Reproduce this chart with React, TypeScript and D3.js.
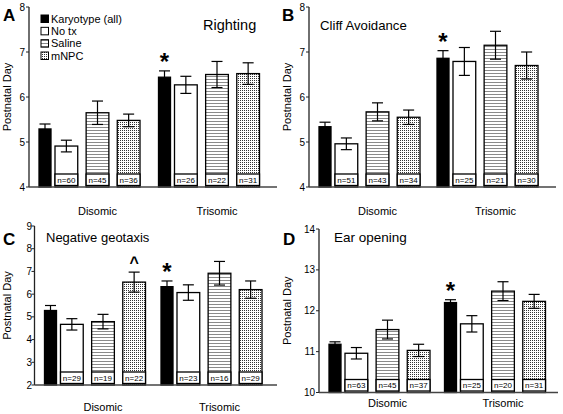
import React from "react";
import * as d3 from "d3";

// ---------- data ----------
const groups = ["Disomic", "Trisomic"];
const seriesNames = ["Karyotype (all)", "No tx", "Saline", "mNPC"];
const treatments = ["No tx", "Saline", "mNPC"];

// means ordered: Disomic [Karyotype, No tx, Saline, mNPC], Trisomic [...]
const rightingMean = [5.29, 4.91, 5.65, 5.48, 6.44, 6.27, 6.5, 6.52];
const rightingErr = [0.11, 0.13, 0.26, 0.14, 0.14, 0.19, 0.29, 0.24];
const rightingN = [60, 45, 36, 26, 22, 31];

const cliffMean = [5.34, 4.96, 5.67, 5.55, 6.86, 6.79, 7.15, 6.7];
const cliffErr = [0.1, 0.13, 0.2, 0.16, 0.17, 0.31, 0.31, 0.3];
const cliffN = [51, 43, 34, 25, 21, 30];

const geotaxisMean = [5.28, 4.67, 4.79, 6.53, 6.33, 6.07, 6.92, 6.2];
const geotaxisErr = [0.22, 0.25, 0.32, 0.44, 0.25, 0.34, 0.52, 0.38];
const geotaxisN = [29, 19, 22, 23, 16, 29];

const earMean = [11.18, 10.96, 11.54, 11.03, 12.2, 11.68, 12.48, 12.23];
const earErr = [0.06, 0.14, 0.23, 0.15, 0.07, 0.2, 0.23, 0.17];
const earN = [63, 45, 37, 25, 20, 31];

const ticksAB = [4, 5, 6, 7, 8];
const ticksC = [2, 3, 4, 5, 6, 7, 8, 9];
const ticksD = [10, 11, 12, 13, 14];

const FONT = "Arial, 'Liberation Sans', Helvetica, sans-serif";
const fills = ["#000", "#fff", "url(#hlines)", "url(#dots)"];

type PanelProps = {
  letter: string;
  title: string;
  mean: number[];
  err: number[];
  ns: number[];
  ticks: number[];
  caretIndex?: number;
  layout: {
    axisX: number; yTop: number; yBottom: number; xEnd: number;
    groupStep: number; labelY: number; tickGap: number;
    titleX: number; titleY: number; titleSize: number;
    letterX: number; letterY: number; ylabelX: number;
  };
};

const Panel = ({ letter, title, mean, err, ns, ticks, caretIndex, layout: L }: PanelProps) => {
  const domain = [ticks[0], ticks[ticks.length - 1]];
  const y = d3.scaleLinear().domain(domain).range([L.yBottom, L.yTop]);
  const bw = 101;
  const start = L.axisX + 10;
  const gScale = d3
    .scaleBand()
    .domain(groups)
    .range([start, start + L.groupStep + bw])
    .paddingInner(1 - bw / L.groupStep)
    .paddingOuter(0);
  const inner = d3.scaleBand().domain(treatments).range([16, 101]).paddingInner(0.27);
  const base = y(domain[0]);

  const bars: any[] = [];
  groups.forEach((g, gi) => {
    seriesNames.forEach((s, si) => {
      const v = mean[gi * 4 + si];
      const e = err[gi * 4 + si];
      const gx = gScale(g)!;
      const x = si === 0 ? gx : gx + inner(s)!;
      const w = si === 0 ? 12 : inner.bandwidth();
      bars.push({ g, gi, si, v, e, x, w, n: si > 0 ? ns[gi * 3 + si - 1] : null });
    });
  });

  return (
    <g>
      {bars.map((b, i) => (
        <rect key={"b" + i} x={b.x} y={y(b.v)} width={b.w} height={base - y(b.v)}
          fill={fills[b.si]} stroke="#000" strokeWidth={1.3} />
      ))}
      {bars.filter((b) => b.n !== null).map((b, i) => (
        <g key={"n" + i}>
          <rect x={b.x} y={base - 13} width={b.w} height={11.5} fill="#fff" stroke="#000" strokeWidth={1.3} />
          <text x={b.x + b.w / 2} y={base - 4.3} fontSize={8} textAnchor="middle" fontFamily={FONT}>
            {"n=" + b.n}
          </text>
        </g>
      ))}
      {bars.map((b, i) => {
        const cx = b.x + b.w / 2;
        const y1 = y(b.v + b.e), y2 = y(b.v - b.e);
        return (
          <g key={"e" + i} stroke="#000" strokeWidth={1.2}>
            <line x1={cx} x2={cx} y1={y1} y2={y2} />
            <line x1={cx - 5.5} x2={cx + 5.5} y1={y1} y2={y1} />
            <line x1={cx - 5.5} x2={cx + 5.5} y1={y2} y2={y2} />
          </g>
        );
      })}
      {bars.filter((b) => b.gi === 1 && b.si === 0).map((b, i) => (
        <text key={"s" + i} x={b.x + b.w / 2} y={y(b.v + b.e) - 1} fontSize={24} fontWeight="bold"
          textAnchor="middle" fontFamily={FONT}>*</text>
      ))}
      {caretIndex !== undefined && (() => {
        const b = bars[caretIndex];
        return (
          <text x={b.x + b.w / 2} y={y(b.v + b.e) - 4} fontSize={16} fontWeight="bold"
            textAnchor="middle" fontFamily={FONT}>^</text>
        );
      })()}
      <line x1={L.axisX} x2={L.axisX} y1={L.yTop} y2={base} stroke="#222" strokeWidth={1.3} />
      <line x1={L.axisX} x2={L.xEnd} y1={base} y2={base} stroke="#444" strokeWidth={1.6} />
      {ticks.map((t) => (
        <g key={"t" + t}>
          <line x1={L.axisX - 3} x2={L.axisX} y1={y(t)} y2={y(t)} stroke="#222" strokeWidth={1} />
          <text x={L.axisX - L.tickGap} y={y(t) + 3.6} fontSize={10} textAnchor="end" fontFamily={FONT}>{t}</text>
        </g>
      ))}
      {groups.map((g) => (
        <text key={g} x={gScale(g)! + 58.5} y={L.labelY} fontSize={11} textAnchor="middle" fontFamily={FONT}>{g}</text>
      ))}
      <text transform={`translate(${L.ylabelX},${(L.yTop + base) / 2}) rotate(-90)`} fontSize={11}
        textAnchor="middle" fontFamily={FONT}>Postnatal Day</text>
      <text x={L.titleX} y={L.titleY} fontSize={L.titleSize} fontFamily={FONT}>{title}</text>
      <text x={L.letterX} y={L.letterY} fontSize={17} fontWeight="bold" fontFamily={FONT}>{letter}</text>
    </g>
  );
};

const Legend = () => {
  const rows = seriesNames.map((s, i) => ({ s, i }));
  const ly = d3.scaleLinear().domain([0, 3]).range([18.7, 55.7]);
  return (
    <g>
      {rows.map((r) => (
        <g key={r.s}>
          <rect x={41} y={ly(r.i) - 3.7} width={7.5} height={7.5} fill={fills[r.i]} stroke="#000" strokeWidth={1} />
          <text x={51} y={ly(r.i) + 4} fontSize={11} fontFamily={FONT}>{r.s}</text>
        </g>
      ))}
    </g>
  );
};

export default function App() {
  return (
    <svg width={563} height={414} style={{ position: "absolute", left: 0, top: 0, background: "#fff" }}>
      <defs>
        <pattern id="hlines" width={4} height={3} patternUnits="userSpaceOnUse">
          <rect width={4} height={3} fill="#fff" />
          <rect y={1} width={4} height={1} fill="#8a8a8a" />
        </pattern>
        <pattern id="dots" width={2} height={2} patternUnits="userSpaceOnUse">
          <rect width={2} height={2} fill="#fff" />
          <rect x={0} y={0} width={1} height={1} fill="#333" />
        </pattern>
      </defs>
      <rect width={563} height={414} fill="#fff" />
      <Panel letter="A" title="Righting" mean={rightingMean} err={rightingErr} ns={rightingN} ticks={ticksAB}
        layout={{ axisX: 29, yTop: 7, yBottom: 187, xEnd: 277, groupStep: 119.5, labelY: 215, tickGap: 4,
          titleX: 203, titleY: 30, titleSize: 14.5, letterX: 3, letterY: 21, ylabelX: 11 }} />
      <Legend />
      <Panel letter="B" title="Cliff Avoidance" mean={cliffMean} err={cliffErr} ns={cliffN} ticks={ticksAB}
        layout={{ axisX: 309, yTop: 7, yBottom: 187, xEnd: 556, groupStep: 118, labelY: 215, tickGap: 4,
          titleX: 320, titleY: 30, titleSize: 13.2, letterX: 282, letterY: 21, ylabelX: 291 }} />
      <Panel letter="C" title="Negative geotaxis" mean={geotaxisMean} err={geotaxisErr} ns={geotaxisN} ticks={ticksC}
        caretIndex={3}
        layout={{ axisX: 34.5, yTop: 226, yBottom: 385, xEnd: 277, groupStep: 116.5, labelY: 411, tickGap: 2.5,
          titleX: 46, titleY: 242, titleSize: 13, letterX: 3, letterY: 245, ylabelX: 11 }} />
      <Panel letter="D" title="Ear opening" mean={earMean} err={earErr} ns={earN} ticks={ticksD}
        layout={{ axisX: 319, yTop: 229, yBottom: 392.5, xEnd: 558, groupStep: 115.5, labelY: 407, tickGap: 4,
          titleX: 334, titleY: 241.5, titleSize: 13.5, letterX: 283, letterY: 245, ylabelX: 291 }} />
    </svg>
  );
}
